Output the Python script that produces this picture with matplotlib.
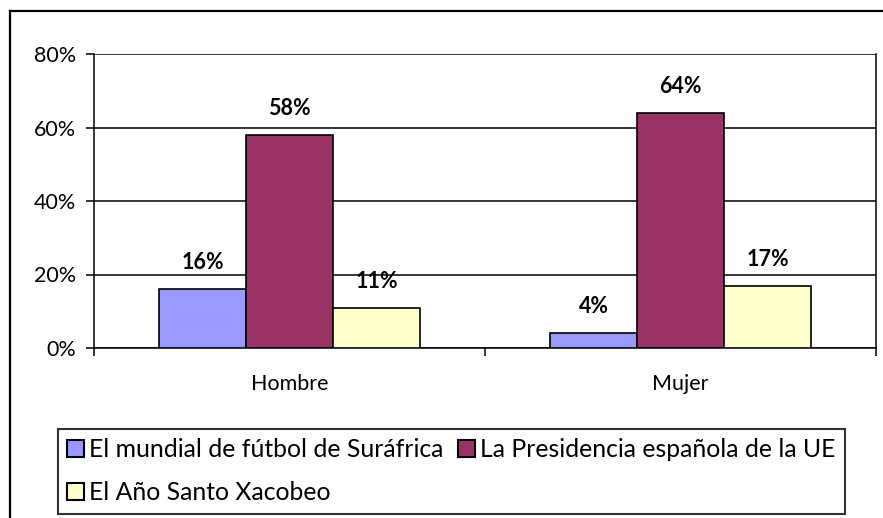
import matplotlib
matplotlib.use("Agg")
import matplotlib.pyplot as plt
from matplotlib.patches import Patch
from matplotlib.lines import Line2D
import numpy as np

categories = ["Hombre", "Mujer"]
series_names = ["El mundial de fútbol de Suráfrica",
                "La Presidencia española de la UE",
                "El Año Santo Xacobeo"]
mundial = [16, 4]
presidencia = [58, 64]
xacobeo = [11, 17]
yticks = [0, 20, 40, 60, 80]
colors = ["#9999FF", "#993366", "#FFFFCC"]

plt.rcParams['font.family'] = ['Lato', 'DejaVu Sans']
FS = 15.5
LFS = 17.8
W, H = 883, 518
fig = plt.figure(figsize=(W / 100, H / 100), dpi=100)
fig.patch.set_facecolor("white")

# outer chart frame (right/bottom edges outside the image)
fig.add_artist(Line2D([10 / W, 10 / W], [0, 1 - 11 / H], transform=fig.transFigure,
                      color="black", lw=1.6, solid_capstyle="projecting"))
fig.add_artist(Line2D([10 / W, 1], [1 - 11 / H, 1 - 11 / H], transform=fig.transFigure,
                      color="black", lw=1.6, solid_capstyle="projecting"))

left, right, top, bottom = 94, 876, 54, 348
ax = fig.add_axes([left / W, 1 - bottom / H, (right - left) / W, (bottom - top) / H])

x = np.arange(len(categories))
bw = 0.2225
data = [mundial, presidencia, xacobeo]
for i, (vals, c) in enumerate(zip(data, colors)):
    ax.bar(x + (i - 1) * bw, [v / 100 for v in vals], width=bw, color=c,
           edgecolor="black", linewidth=1.2, zorder=3)
    for xi, v in zip(x, vals):
        ax.annotate(f"{v}%", (xi + (i - 1) * bw, v / 100), xytext=(0, 14.4),
                    textcoords="offset points", ha="center", va="baseline",
                    fontsize=FS, fontweight="bold", color="black", zorder=4)

ax.set_xlim(-0.5, 1.5)
ax.set_ylim(0, 0.8)
ax.set_yticks([t / 100 for t in yticks])
ax.set_yticklabels([f"{t}%" for t in yticks], fontsize=FS)
ax.yaxis.grid(True, color="black", linewidth=1.1, zorder=1)
ax.set_axisbelow(True)

ax.set_xticks(x)
ax.set_xticklabels(categories, fontsize=FS)
ax.set_xticks([-0.5, 0.5, 1.5], minor=True)
ax.tick_params(axis="x", which="major", length=0, pad=19)
ax.tick_params(axis="x", which="minor", length=5.5, width=1.1, direction="out", color="black")
ax.tick_params(axis="y", which="major", length=6, width=1.1, direction="out", pad=7, color="black")

for s in ["left", "right", "bottom"]:
    ax.spines[s].set_color("black")
    ax.spines[s].set_linewidth(1.1)
ax.spines["top"].set_visible(False)

handles = [Patch(facecolor=colors[0], edgecolor="black", linewidth=1.5),
           Patch(facecolor=colors[2], edgecolor="black", linewidth=1.5),
           Patch(facecolor=colors[1], edgecolor="black", linewidth=1.5)]
labels = [series_names[0], series_names[2], series_names[1]]
leg = fig.legend(handles, labels, loc="upper left",
                 bbox_to_anchor=(58 / W, 1 - 429 / H), ncol=2, fontsize=LFS,
                 frameon=True, fancybox=False, handlelength=0.68, handleheight=0.68,
                 handletextpad=0.2, columnspacing=0.6, labelspacing=0.8,
                 borderpad=0.38, borderaxespad=0)
leg.get_frame().set_edgecolor("black")
leg.get_frame().set_linewidth(1.5)

fig.savefig("out.png", dpi=100, facecolor="white")
